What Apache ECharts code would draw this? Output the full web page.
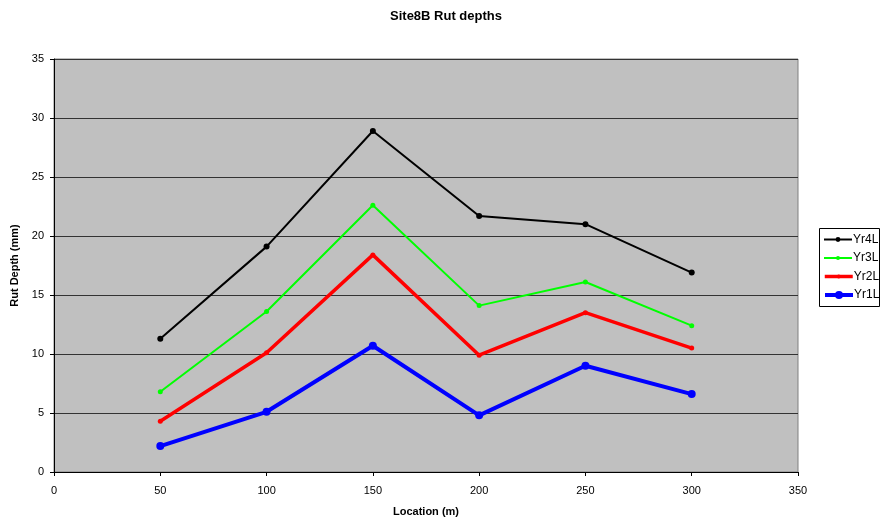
<!DOCTYPE html>
<html>
<head>
<meta charset="utf-8">
<script src="https://cdn.jsdelivr.net/npm/echarts@6/dist/echarts.min.js"></script>
<style>
  html, body { margin: 0; padding: 0; background: #fff; }
  #chart { width: 881px; height: 520px; }
</style>
</head>
<body>
<div id="chart"></div>
<script>
// Rut depth survey, site 8B
const locations = [50, 100, 150, 200, 250, 300];
const yr4L = [11.3, 19.1, 28.9, 21.7, 21.0, 16.9];
const yr3L = [6.8, 13.6, 22.6, 14.1, 16.1, 12.4];
const yr2L = [4.3, 10.1, 18.4, 9.9, 13.5, 10.5];
const yr1L = [2.2, 5.1, 10.7, 4.8, 9.0, 6.6];

const seriesDefs = [
  { name: 'Yr4L', data: yr4L, color: '#000000', width: 2, symbolSize: 6, keySize: 6 },
  { name: 'Yr3L', data: yr3L, color: '#00ff00', width: 2, symbolSize: 5, keySize: 5 },
  { name: 'Yr2L', data: yr2L, color: '#ff0000', width: 3.5, symbolSize: 5, keySize: 5 },
  { name: 'Yr1L', data: yr1L, color: '#0000ff', width: 4, symbolSize: 8, keySize: 10 }
];

const font = 'Liberation Sans, Arial, sans-serif';

// Key box and row layout
const keyBox = { x: 819, y: 228, w: 60, h: 78 };
const keyRowCenters = [239.5, 258, 276.5, 295];

const legends = seriesDefs.map((s, i) => ({
  orient: 'vertical',
  left: 823,
  top: keyRowCenters[i] - 7,
  padding: 0,
  itemWidth: 28,
  itemHeight: s.keySize,
  itemGap: 0,
  textStyle: { fontFamily: font, fontSize: 12, lineHeight: 14, color: '#000', padding: [0, 0, 0, -4] },
  lineStyle: { width: s.width },
  data: [s.name],
  z: 10
}));

const chart = echarts.init(document.getElementById('chart'), null, { renderer: 'canvas' });

chart.setOption({
  animation: false,
  backgroundColor: '#ffffff',
  textStyle: { fontFamily: font },
  title: {
    text: 'Site8B Rut depths',
    left: 441,
    textAlign: 'center',
    top: 5,
    textStyle: { fontFamily: font, fontSize: 13, fontWeight: 'bold', color: '#000' }
  },
  grid: {
    left: 54, right: 83, top: 59, bottom: 48,
    outerBoundsMode: 'none',
    containLabel: false,
    show: true,
    backgroundColor: '#c0c0c0',
    borderColor: '#808080',
    borderWidth: 1
  },
  graphic: [{
    type: 'rect',
    shape: { x: keyBox.x + 0.5, y: keyBox.y + 0.5, width: keyBox.w, height: keyBox.h },
    style: { fill: '#ffffff', stroke: '#000000', lineWidth: 1 },
    z: 5,
    silent: true
  }],
  legend: legends,
  xAxis: {
    type: 'value',
    min: 0,
    max: 350,
    interval: 50,
    name: 'Location (m)',
    nameLocation: 'middle',
    nameGap: 34,
    nameTextStyle: { fontFamily: font, fontSize: 11, fontWeight: 'bold', color: '#000' },
    axisLine: { show: true, onZero: false, lineStyle: { color: '#000', width: 1 } },
    axisTick: { show: true, inside: false, length: 4, lineStyle: { color: '#000' } },
    axisLabel: { fontFamily: font, fontSize: 11, color: '#000', margin: 13 },
    splitLine: { show: false }
  },
  yAxis: {
    type: 'value',
    min: 0,
    max: 35,
    interval: 5,
    name: 'Rut Depth (mm)',
    nameLocation: 'middle',
    nameGap: 33,
    nameRotate: 90,
    nameTextStyle: { fontFamily: font, fontSize: 11, fontWeight: 'bold', color: '#000' },
    axisLine: { show: true, lineStyle: { color: '#000', width: 1 } },
    axisTick: { show: true, inside: false, length: 4, lineStyle: { color: '#000' } },
    axisLabel: { fontFamily: font, fontSize: 11, color: '#000', margin: 10 },
    splitLine: { show: true, lineStyle: { color: '#333333', width: 1 } }
  },
  series: seriesDefs.map(s => ({
    name: s.name,
    type: 'line',
    data: locations.map((x, i) => [x, s.data[i]]),
    symbol: 'circle',
    symbolSize: s.symbolSize,
    showSymbol: true,
    lineStyle: { color: s.color, width: s.width },
    itemStyle: { color: s.color, borderWidth: 0 },
    emphasis: { disabled: true }
  }))
});
</script>
</body>
</html>
